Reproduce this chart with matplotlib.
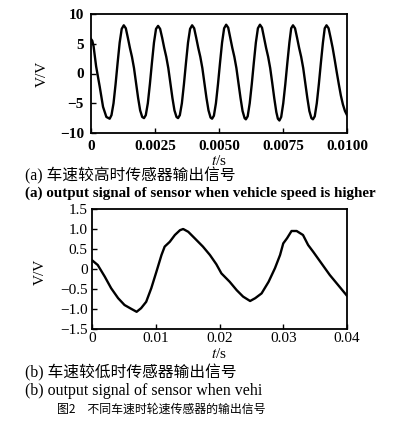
import matplotlib
matplotlib.use("Agg")
import matplotlib.pyplot as plt

# ---- data: panel (a), high vehicle speed (t in ms, voltage in V) ----
t_a_ms = [0.00, 0.05, 0.10, 0.20, 0.34, 0.47, 0.60, 0.73,
          0.80, 0.88, 0.96, 1.04, 1.12, 1.20, 1.28, 1.36, 1.44, 1.52, 1.60, 1.68, 1.76, 1.84, 1.92, 2.00, 2.07,
          2.14, 2.22, 2.30, 2.38, 2.46, 2.54, 2.62, 2.70, 2.78, 2.86, 2.94, 3.02, 3.10, 3.18, 3.26, 3.34, 3.40,
          3.47, 3.55, 3.63, 3.71, 3.79, 3.87, 3.95, 4.03, 4.11, 4.19, 4.27, 4.35, 4.43, 4.51, 4.59, 4.67, 4.73,
          4.80, 4.88, 4.96, 5.04, 5.12, 5.20, 5.28, 5.36, 5.44, 5.52, 5.60, 5.68, 5.76, 5.84, 5.92, 6.00, 6.05,
          6.12, 6.20, 6.28, 6.36, 6.44, 6.52, 6.60, 6.68, 6.76, 6.84, 6.92, 7.00, 7.08, 7.16, 7.24, 7.30, 7.36,
          7.43, 7.51, 7.59, 7.67, 7.75, 7.82, 7.89, 7.97, 8.05, 8.13, 8.21, 8.29, 8.37, 8.45, 8.53, 8.61, 8.67,
          8.74, 8.82, 8.90, 8.98, 9.06, 9.13, 9.20, 9.28, 9.36, 9.44, 9.52, 9.60, 9.68, 9.76, 9.84, 9.92, 10.00]
v_a = [5.8, 5.5, 4.6, 1.2, -2.2, -5.6, -7.3, -7.6,
       -7.0, -5.0, -1.8, 1.8, 5.2, 7.5, 8.1, 7.6, 6.0, 4.3, 2.8, 0.9, -1.6, -4.1, -6.2, -7.3, -7.5,
       -7.0, -5.0, -1.8, 1.8, 5.2, 7.5, 8.0, 7.5, 6.0, 4.3, 2.8, 0.9, -1.6, -4.1, -6.2, -7.3, -7.5,
       -7.0, -5.0, -1.8, 1.8, 5.2, 7.5, 8.1, 7.6, 6.0, 4.3, 2.8, 0.9, -1.6, -4.1, -6.2, -7.4, -7.6,
       -7.1, -5.0, -1.8, 1.8, 5.2, 7.6, 8.2, 7.7, 6.0, 4.3, 2.8, 0.9, -1.6, -4.1, -6.3, -7.5, -7.7,
       -7.2, -5.0, -1.8, 1.8, 5.2, 7.6, 8.2, 7.7, 6.0, 4.3, 2.8, 0.9, -1.6, -4.2, -6.5, -7.6, -7.9,
       -7.3, -5.0, -1.8, 1.8, 5.2, 7.6, 8.1, 7.6, 6.0, 4.3, 2.8, 0.9, -1.6, -4.1, -6.3, -7.5, -7.7,
       -7.2, -5.0, -1.8, 1.8, 5.2, 7.6, 8.1, 7.6, 6.0, 4.3, 2.3, 0.2, -1.8, -3.7, -5.2, -6.3, -7.0]

# ---- data: panel (b), low vehicle speed (t in s, voltage in V) ----
t_b = [0.0000, 0.0009, 0.0020, 0.0030, 0.0041, 0.0051, 0.0062, 0.0070, 0.0077, 0.0085,
       0.0093, 0.0101, 0.0109, 0.0114, 0.0122, 0.0130, 0.0138, 0.0143, 0.0151, 0.0161,
       0.0174, 0.0185, 0.0195, 0.0203, 0.0216, 0.0227, 0.0237, 0.0248, 0.0256, 0.0266,
       0.0277, 0.0287, 0.0295, 0.0300, 0.0306, 0.0313, 0.0321, 0.0331, 0.0339, 0.0347,
       0.0360, 0.0373, 0.0386, 0.0400]
v_b = [0.22, 0.10, -0.19, -0.48, -0.73, -0.90, -1.00, -1.07, -0.98, -0.82,
       -0.48, -0.07, 0.35, 0.56, 0.68, 0.85, 0.97, 1.00, 0.93, 0.77,
       0.56, 0.35, 0.12, -0.11, -0.32, -0.53, -0.69, -0.80, -0.73, -0.61,
       -0.32, 0.02, 0.35, 0.64, 0.77, 0.95, 0.95, 0.85, 0.60, 0.43,
       0.14, -0.15, -0.40, -0.67]

yticks_a = [-10, -5, 0, 5, 10]
ytick_labels_a = ["\u221210", "\u22125", "0", "5", "10"]
xticks_a = [0, 0.0025, 0.0050, 0.0075, 0.0100]
xtick_labels_a = ["0", "0.0025", "0.0050", "0.0075", "0.0100"]

yticks_b = [-1.5, -1.0, -0.5, 0, 0.5, 1.0, 1.5]
ytick_labels_b = ["\u22121.5", "\u22121.0", "\u22120.5", "0", "0.5", "1.0", "1.5"]
xticks_b = [0, 0.01, 0.02, 0.03, 0.04]
xtick_labels_b = ["0", "0.01", "0.02", "0.03", "0.04"]

cap_a_cn = "(a) 车速较高时传感器输出信号"
cap_a_en = "(a) output signal of sensor when vehicle speed is higher"
cap_b_cn = "(b) 车速较低时传感器输出信号"
cap_b_en = "(b) output signal of sensor when vehi"
fig_title = "图2\u3000不同车速时轮速传感器的输出信号"

W, H = 400, 422
fig = plt.figure(figsize=(W / 100, H / 100), dpi=100)
serif = "Liberation Serif"
cjk_mix = ["Liberation Serif", "Noto Sans CJK SC", "DejaVu Sans"]
cjk = ["Noto Sans CJK SC", "DejaVu Sans"]


def ax_rect(x0, y0, x1, y1):
    return [x0 / W, 1 - y1 / H, (x1 - x0) / W, (y1 - y0) / H]


def style(ax, weight, xpad, ypad):
    for s in ax.spines.values():
        s.set_linewidth(1.3)
    ax.tick_params(direction="in", length=3.5, width=1.0, top=False, right=False)
    ax.tick_params(axis="x", pad=xpad)
    ax.tick_params(axis="y", pad=ypad)
    for lab in ax.get_xticklabels() + ax.get_yticklabels():
        lab.set_fontfamily(serif)
        lab.set_fontsize(11)
        lab.set_fontweight(weight)


# panel (a)
ax1 = fig.add_axes(ax_rect(91, 14, 347, 133))
t_a = [x / 1000.0 for x in t_a_ms]
ax1.plot(t_a, v_a, color="black", lw=1.7)
ax1.set_xlim(0, 0.01)
ax1.set_ylim(-10, 10)
ax1.set_xticks(xticks_a)
ax1.set_xticklabels(xtick_labels_a)
ax1.set_yticks(yticks_a)
ax1.set_yticklabels(ytick_labels_a)
style(ax1, "bold", 5, 5)

# panel (b)
ax2 = fig.add_axes(ax_rect(92, 209, 347, 329))
ax2.plot(t_b, v_b, color="black", lw=1.7)
ax2.set_xlim(0, 0.04)
ax2.set_ylim(-1.5, 1.5)
ax2.set_xticks(xticks_b)
ax2.set_xticklabels(xtick_labels_b)
ax2.set_yticks(yticks_b)
ax2.set_yticklabels(ytick_labels_b)
style(ax2, "normal", 2, 3)


def ftext(x, y, s, **kw):
    fig.text(x / W, 1 - y / H, s, **kw)


# axis labels
ftext(42, 74, "V/V", rotation=90, ha="center", va="center", family=serif, fontsize=11)
ftext(40, 272, "V/V", rotation=90, ha="center", va="center", family=serif, fontsize=11)
ftext(219, 161, "$\\mathit{t}$/s", ha="center", va="center", family=serif, fontsize=11,
      math_fontfamily="stix")
ftext(219, 354, "$\\mathit{t}$/s", ha="center", va="center", family=serif, fontsize=11,
      math_fontfamily="stix")

# captions
ftext(25, 176, cap_a_cn, ha="left", va="center", family=cjk_mix, fontsize=11.3)
ftext(25, 193, cap_a_en, ha="left", va="center", family=serif, fontsize=10.8, fontweight="bold")
ftext(25, 373, cap_b_cn, ha="left", va="center", family=cjk_mix, fontsize=11.3)
ftext(25, 391, cap_b_en, ha="left", va="center", family=serif, fontsize=11.4)
ftext(57, 409, fig_title, ha="left", va="center", family=cjk, fontsize=8.6)

fig.savefig("out.png", dpi=100)
